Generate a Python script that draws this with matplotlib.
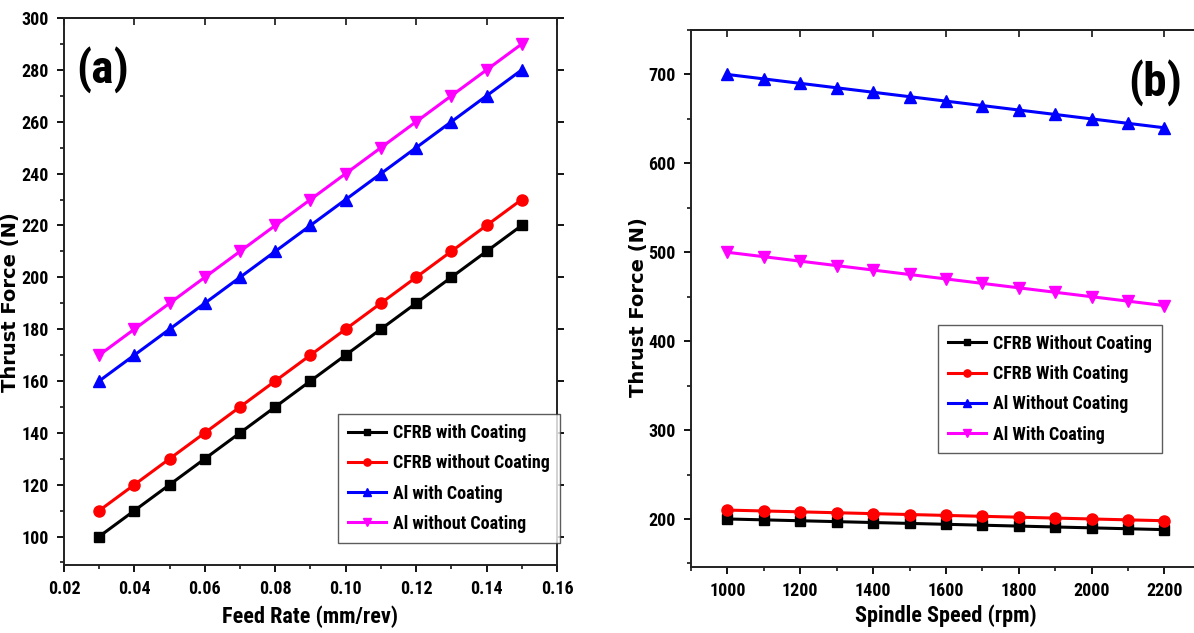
"""
thrust force vs feed rate / spindle speed
"""

import numpy as np
import matplotlib.pyplot as plt
from matplotlib.ticker import MultipleLocator, FixedLocator

# panel (a) data
feed_rate = [0.03, 0.04, 0.05, 0.06, 0.07, 0.08, 0.09, 0.10, 0.11, 0.12, 0.13, 0.14, 0.15]
cfrb_with_a = [100, 110, 120, 130, 140, 150, 160, 170, 180, 190, 200, 210, 220]
cfrb_without_a = [110, 120, 130, 140, 150, 160, 170, 180, 190, 200, 210, 220, 230]
al_with_a = [160, 170, 180, 190, 200, 210, 220, 230, 240, 250, 260, 270, 280]
al_without_a = [170, 180, 190, 200, 210, 220, 230, 240, 250, 260, 270, 280, 290]
labels_a = ["CFRB with Coating", "CFRB without Coating", "Al with Coating", "Al without Coating"]

# panel (b) data
spindle_speed = [1000, 1100, 1200, 1300, 1400, 1500, 1600, 1700, 1800, 1900, 2000, 2100, 2200]
cfrb_without_b = [200, 199, 198, 197, 196, 195, 194, 193, 192, 191, 190, 189, 188]
cfrb_with_b = [210, 209, 208, 207, 206, 205, 204, 203, 202, 201, 200, 199, 198]
al_without_b = [700, 695, 690, 685, 680, 675, 670, 665, 660, 655, 650, 645, 640]
al_with_b = [500, 495, 490, 485, 480, 475, 470, 465, 460, 455, 450, 445, 440]
labels_b = ["CFRB Without Coating", "CFRB With Coating", "Al Without Coating", "Al With Coating"]

NARROW = ['Roboto Condensed', 'PT Sans Narrow', 'DejaVu Sans']
WIDE = ['DejaVu Sans']

styles = [("black", "s", 7), ("red", "o", 8), ("blue", "^", 9), ("magenta", "v", 9)]


def draw(ax, x, series, labels):
    for y, lab, (c, m, ms) in zip(series, labels, styles):
        ax.plot(x, y, color=c, marker=m, markersize=ms, lw=2.2, label=lab)


def style_axes(ax):
    for s in ax.spines.values():
        s.set_linewidth(1.4)
        s.set_color("#222222")
    ax.tick_params(axis="both", which="major", direction="out", length=5, width=1.3,
                   labelsize=13, pad=6)
    ax.tick_params(axis="both", which="minor", direction="out", length=3, width=1.1)
    for lab in ax.get_xticklabels() + ax.get_yticklabels():
        lab.set_family(NARROW)
        lab.set_fontweight("bold")
    top = ax.secondary_xaxis("top")
    top.tick_params(direction="in", length=5, width=1.1, labeltop=False)
    top.set_xticks(ax.get_xticks())
    top.spines["top"].set_linewidth(1.4)


def add_legend(ax, anchor):
    leg = ax.legend(loc="upper left", bbox_to_anchor=anchor,
                    prop={"family": NARROW, "weight": "bold", "size": 13},
                    frameon=True, fancybox=False, edgecolor="#333333", handlelength=2.1,
                    handletextpad=0.4, markerscale=0.65, borderpad=0.55,
                    labelspacing=0.68, borderaxespad=0.0)
    leg.get_frame().set_linewidth(1.0)
    return leg


fig = plt.figure(figsize=(11.94, 6.33), dpi=100)

# ---- panel (a)
ax1 = fig.add_axes([0.0536, 0.1074, 0.4129, 0.8641])
draw(ax1, feed_rate, [cfrb_with_a, cfrb_without_a, al_with_a, al_without_a], labels_a)
ax1.set_xlim(0.02, 0.16)
ax1.set_ylim(89, 300)
ax1.set_xticks(np.arange(0.02, 0.161, 0.02))
ax1.set_xticklabels(["%.2f" % v for v in np.arange(0.02, 0.161, 0.02)])
ax1.xaxis.set_minor_locator(MultipleLocator(0.01))
ax1.yaxis.set_major_locator(FixedLocator(np.arange(100, 301, 20)))
ax1.yaxis.set_minor_locator(FixedLocator(np.arange(90, 300, 20)))
ax1.tick_params(axis="y", which="major", right=True)
style_axes(ax1)
ax1.set_xlabel("Feed Rate (mm/rev)", family=NARROW, fontweight="bold", fontsize=16)
ax1.xaxis.set_label_coords(0.5, -0.074)
ax1.set_ylabel("Thrust Force (N)", family=WIDE, fontweight="bold", fontsize=14)
ax1.yaxis.set_label_coords(-0.089, 0.48)
ax1.text(0.079, 0.905, "(a)", transform=ax1.transAxes, family=NARROW, fontweight="bold",
         fontsize=34, va="center", ha="center")
add_legend(ax1, (0.556, 0.276))

# ---- panel (b)
ax2 = fig.add_axes([0.5787, 0.1043, 0.4271, 0.8483])
draw(ax2, spindle_speed, [cfrb_without_b, cfrb_with_b, al_without_b, al_with_b], labels_b)
ax2.set_xlim(900, 2300)
ax2.set_ylim(146, 750)
ax2.xaxis.set_major_locator(MultipleLocator(200))
ax2.xaxis.set_minor_locator(MultipleLocator(100))
ax2.yaxis.set_major_locator(MultipleLocator(100))
ax2.yaxis.set_minor_locator(MultipleLocator(50))
style_axes(ax2)
ax2.set_xlabel("Spindle Speed (rpm)", family=NARROW, fontweight="bold", fontsize=16)
ax2.xaxis.set_label_coords(0.5, -0.07)
ax2.set_ylabel("Thrust Force (N)", family=WIDE, fontweight="bold", fontsize=14)
ax2.yaxis.set_label_coords(-0.084, 0.484)
ax2.text(0.910, 0.903, "(b)", transform=ax2.transAxes, family=NARROW, fontweight="bold",
         fontsize=34, va="center", ha="center")
add_legend(ax2, (0.484, 0.451))

fig.savefig("out.png", dpi=100)
